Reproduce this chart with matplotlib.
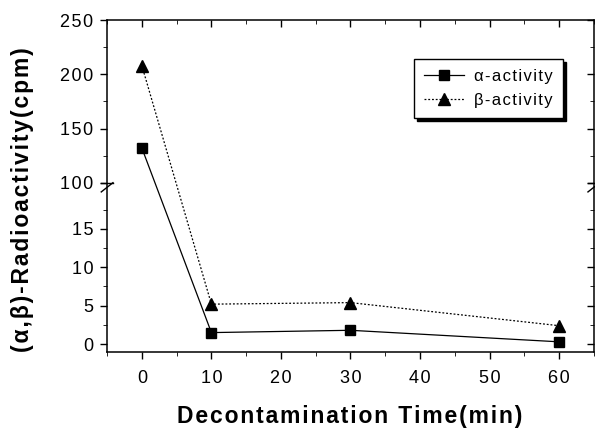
import numpy as np
import matplotlib
matplotlib.use("Agg")
import matplotlib.pyplot as plt
from matplotlib.transforms import blended_transform_factory

plt.rcParams['font.family'] = ['Liberation Sans', 'DejaVu Sans']

# data
time_min = [0, 10, 30, 60]
alpha_cpm = [132, 1.5, 1.8, 0.3]
beta_cpm = [208, 5.2, 5.4, 2.4]

x_ticks = [0, 10, 20, 30, 40, 50, 60]
x_minor = [-5, 5, 15, 25, 35, 45, 55, 65]
y_ticks = [0, 5, 10, 15, 100, 150, 200, 250]
y_minor = [2.5, 7.5, 12.5, 17.5, 125, 175, 225]

# broken y axis: 0..21 full scale, 100..250 squeezed
LOW_TOP = 21.0
HIGH_BOTTOM = 100.0
SQUEEZE = 0.141


def forward(y):
    y = np.asarray(y, dtype=float)
    return np.where(y <= LOW_TOP, y,
                    np.where(y >= HIGH_BOTTOM, LOW_TOP + (y - HIGH_BOTTOM) * SQUEEZE, LOW_TOP))


def inverse(u):
    u = np.asarray(u, dtype=float)
    return np.where(u <= LOW_TOP, u, HIGH_BOTTOM + (u - LOW_TOP) / SQUEEZE)


def spaced(text, n=1):
    # rough letter spacing, like the Origin export
    return ('\u200a' * n).join(text)


fig = plt.figure(figsize=(5.95, 4.28), dpi=100)
ax = fig.add_axes([0.180, 0.178, 0.818, 0.775])
ax.set_yscale('function', functions=(forward, inverse))

ax.plot(time_min, alpha_cpm, color='black', lw=0.9, marker='s', ms=7,
        label=spaced('\u03b1-activity'))
ax.plot(time_min, beta_cpm, color='black', lw=0.9, ls=(0, (1.5, 1.5)), marker='^', ms=8,
        label=spaced('\u03b2-activity'))

ax.set_xlim(-5, 65)
ax.set_ylim(-1, 250)
ax.set_xticks(x_ticks)
ax.set_xticklabels([spaced(str(v)) for v in x_ticks])
ax.set_xticks(x_minor, minor=True)
ax.set_yticks(y_ticks)
ax.set_yticklabels([spaced(str(v)) for v in y_ticks])
ax.set_yticks(y_minor, minor=True)
ax.set_yticklabels([], minor=True)

ax.tick_params(axis='both', which='major', labelsize=13, width=1)
ax.tick_params(axis='x', which='major', direction='out', length=5, pad=8)
ax.tick_params(axis='x', which='minor', direction='out', length=3)
ax.tick_params(axis='y', which='major', direction='out', length=5, pad=5)
ax.tick_params(axis='y', which='minor', direction='out', length=3)
ax.tick_params(top=True, right=True, which='both')
for t in ax.xaxis.get_major_ticks() + ax.xaxis.get_minor_ticks():
    t.tick2line.set_marker(3)
for t in ax.yaxis.get_major_ticks() + ax.yaxis.get_minor_ticks():
    t.tick2line.set_marker(0)

for sp in ax.spines.values():
    sp.set_linewidth(1.1)

# break marks on both vertical spines
trans = blended_transform_factory(ax.transAxes, ax.transData)
for xa in (0.0, 1.0):
    for dy in (-0.6, 0.6):
        ax.plot([xa - 0.012, xa + 0.012], [LOW_TOP + dy - 0.6, LOW_TOP + dy + 0.6],
                transform=trans, color='black', lw=1, clip_on=False)

leg = ax.legend(loc='upper right', bbox_to_anchor=(0.937, 0.8825), borderaxespad=0,
                fontsize=12, frameon=True, fancybox=False, edgecolor='black', framealpha=1,
                shadow={'color': 'black', 'alpha': 1}, handlelength=2.4,
                borderpad=0.6, labelspacing=0.55, handletextpad=0.6)
leg.get_frame().set_linewidth(1)

fig.text(0.588, 0.028, spaced('Decontamination Time(min)'), ha='center', va='center',
         fontsize=16.5, fontweight='bold')
fig.text(0.037, 0.533, spaced('(\u03b1,\u03b2)-Radioactivity(cpm)'), ha='center', va='center',
         rotation=90, fontsize=16.5, fontweight='bold')

fig.savefig('out.png', dpi=100)
